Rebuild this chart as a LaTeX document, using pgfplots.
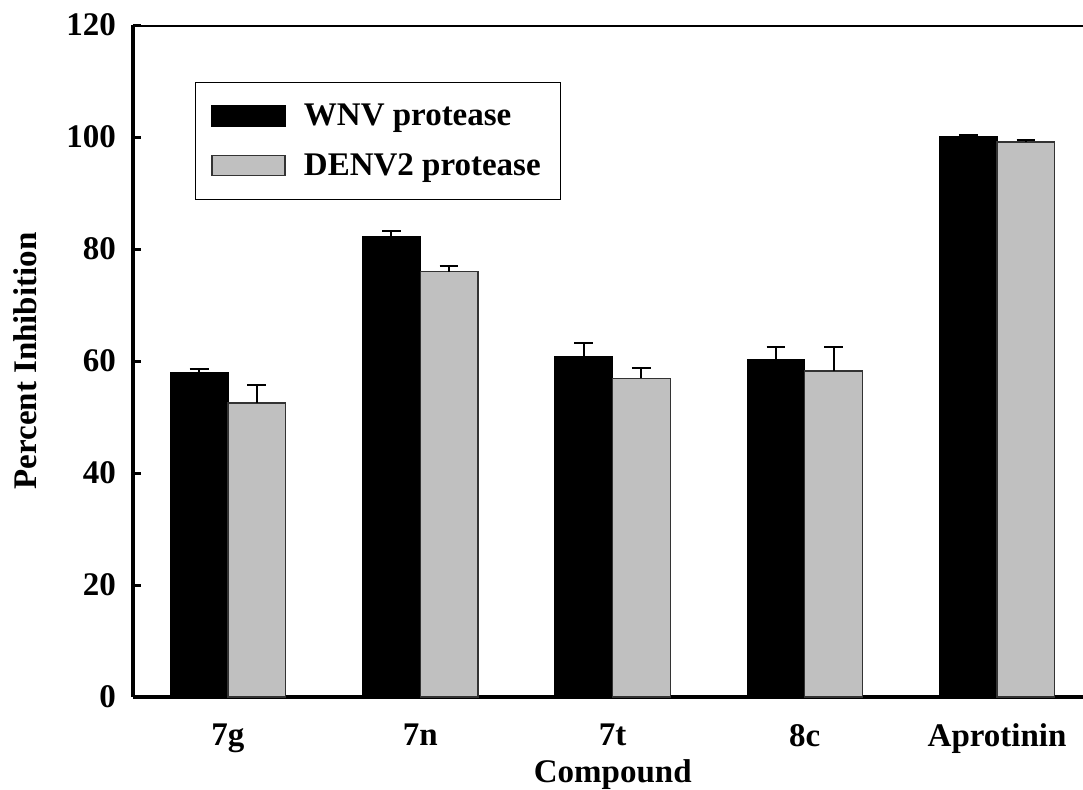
\documentclass[border=0pt]{standalone}
\usepackage{fontspec}
\setmainfont{Liberation Serif}
\usepackage{pgfplots}
\pgfplotsset{compat=1.18}
\usepackage{pgfplotstable}
\definecolor{bargray}{RGB}{192,192,192}
\pgfplotstableread{
x w we d de
0 58.0 0.6 52.5 3.3
1 82.3 0.9 75.95 0.95
2 60.8 2.4 56.9 1.85
3 60.3 2.25 58.2 4.3
4 100.0 0.4 99.1 0.35
}\datatable
\newcommand{\labfont}{\fontsize{16.5}{19}\selectfont\bfseries}
\begin{document}
\begin{tikzpicture}
\begin{axis}[
  scale only axis, width=475pt, height=336pt,
  xmin=-0.494, xmax=4.447, ymin=0, ymax=120,
  axis x line*=bottom, axis y line*=left,
  axis line style={line width=2pt,-},
  ytick={0,20,...,120},
  xtick={0,1,2,3,4}, xticklabels={7g,7n,7t,8c,Aprotinin},
  x tick style={draw=none},
  y tick style={line width=1.5pt,black},
  tick align=inside, major tick length=4pt,
  /pgf/number format/assume math mode=true,
  ticklabel style={font=\labfont},
  yticklabel style={xshift=-5pt},
  xticklabel style={yshift=-6pt},
  ylabel={Percent Inhibition},
  ylabel style={font=\labfont, at={(axis description cs:-0.1137,0.5)}, anchor=center},
  xlabel={Compound},
  xlabel style={font=\labfont, at={(axis description cs:0.505,-0.116)}, anchor=center},
  ybar, bar width=0.3,
  legend image code/.code={\draw[#1] (0pt,-5pt) rectangle (36.5pt,5pt); \path[draw=none,fill=none] (0pt,0pt) -- (44pt,0pt);},
  legend style={at={(axis description cs:0.065,0.915)}, anchor=north west,
    draw=black, line width=0.6pt, font=\labfont, inner xsep=8pt, inner ysep=8.5pt,
    row sep=8.5pt, cells={anchor=west}},
  legend cell align=left,
  error bars/error bar style={line width=1pt,black},
  error bars/error mark options={rotate=90,mark size=4.7pt,line width=1pt,black},
]
\addplot[fill=black, draw=black, line width=0.6pt, bar shift=-0.15,
  error bars/.cd, y dir=plus, y explicit]
  table[x=x, y=w, y error=we]{\datatable};
\addlegendentry{WNV protease}
\addplot[fill=bargray, draw=black!80, line width=0.6pt, bar shift=0.15,
  error bars/.cd, y dir=plus, y explicit]
  table[x=x, y=d, y error=de]{\datatable};
\addlegendentry{DENV2 protease}
\draw[line width=2pt] (rel axis cs:0,1) -- (rel axis cs:1,1);
\coordinate (o) at (rel axis cs:0,0);
\end{axis}
\pgfresetboundingbox
\path (o) ++(-66.5pt,-46pt) rectangle ++(541.5pt,394.5pt);
\end{tikzpicture}
\end{document}
